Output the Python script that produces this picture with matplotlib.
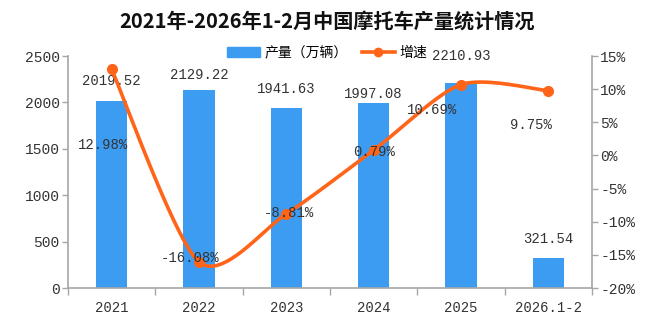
import numpy as np
import matplotlib
matplotlib.use("Agg")
import matplotlib.pyplot as plt
from matplotlib.lines import Line2D
from matplotlib.patches import Patch

plt.rcParams['font.family'] = ['Noto Sans CJK SC', 'DejaVu Sans']

categories = ['2021', '2022', '2023', '2024', '2025', '2026.1-2']
output = [2019.52, 2129.22, 1941.63, 1997.08, 2210.93, 321.54]
growth = [12.98, -16.08, -8.81, 0.79, 10.69, 9.75]
left_ticks = [0, 500, 1000, 1500, 2000, 2500]
right_ticks = [-20, -15, -10, -5, 0, 5, 10, 15]

# label offsets in pixels (dx, dy), copied by eye from the reference
bar_label_off = [(0, 20), (0, 15), (0, 19), (0, 9), (0, 27), (0, 19)]
pct_label_off = [(-9, -76), (-9, 4), (3, 1), (0, -2), (-29, -25), (-17, -34)]

BLUE = '#3c9cf2'
ORANGE = '#ff6418'
GRAY = '#a6a6a6'
TXT = '#333333'
MONO = 'Liberation Mono'


def catmull_rom(px, py, n=40, k=0.8):
    # smooth line like the spreadsheet one, in pixel space
    pts = np.column_stack([px, py])
    pts = np.vstack([pts[0], pts, pts[-1]])
    out = []
    for i in range(1, len(pts) - 2):
        p0, p1, p2, p3 = pts[i - 1], pts[i], pts[i + 1], pts[i + 2]
        m1 = k * (p2 - p0) / 2
        m2 = k * (p3 - p1) / 2
        t = np.linspace(0, 1, n)[:, None]
        h00 = 2 * t ** 3 - 3 * t ** 2 + 1
        h10 = t ** 3 - 2 * t ** 2 + t
        h01 = -2 * t ** 3 + 3 * t ** 2
        h11 = t ** 3 - t ** 2
        out.append(h00 * p1 + h10 * m1 + h01 * p2 + h11 * m2)
    out = np.vstack(out)
    return out[:, 0], out[:, 1]


fig = plt.figure(figsize=(6.61, 3.22), dpi=100)
ax = fig.add_axes([68 / 661, 1 - 288 / 322, (592 - 68) / 661, (288 - 56) / 322])
ax2 = ax.twinx()

x = np.arange(len(categories))
ax.bar(x, output, width=0.36, color=BLUE, zorder=2)
ax.set_xlim(-0.5, len(categories) - 0.5)
ax.set_ylim(0, 2500)
ax.set_yticks(left_ticks)
ax.set_yticklabels([str(v) for v in left_ticks], fontfamily=MONO, fontsize=10.5, color=TXT)
ax.set_xticks(x)
ax.set_xticklabels(categories, fontfamily=MONO, fontsize=10, color=TXT)
ax.set_xticks(np.arange(len(categories) + 1) - 0.5, minor=True)
ax.tick_params(axis='x', which='major', length=0, pad=9)
ax.tick_params(axis='x', which='minor', length=5, color=GRAY, width=1)
ax.tick_params(axis='y', length=4, color=GRAY, width=1, pad=2)

ax2.set_ylim(-20, 15)
ax2.set_yticks(right_ticks)
ax2.set_yticklabels([f'{v}%' for v in right_ticks], fontfamily=MONO, fontsize=10.5, color=TXT)
ax2.tick_params(axis='y', length=4, color=GRAY, width=1, pad=2)

for a in (ax, ax2):
    a.spines['top'].set_visible(False)
    for s in ('left', 'right', 'bottom'):
        a.spines[s].set_color(GRAY)
        a.spines[s].set_linewidth(1.2)
ax.spines['right'].set_visible(False)
ax2.spines['left'].set_visible(False)
ax2.spines['bottom'].set_visible(False)

# smooth growth line, built in display space then mapped back to data
fig.canvas.draw()
disp = ax2.transData.transform(np.column_stack([x, growth]))
sx, sy = catmull_rom(disp[:, 0], disp[:, 1])
back = ax2.transData.inverted().transform(np.column_stack([sx, sy]))
ax2.plot(back[:, 0], back[:, 1], color=ORANGE, lw=2.6, zorder=3, solid_capstyle='round')
ax2.plot(x, growth, 'o', color=ORANGE, ms=7, zorder=4)

for i, v in enumerate(output):
    dx, dy = bar_label_off[i]
    ax.annotate(f'{v:.2f}', (x[i], v), xytext=(dx * 0.72, dy * 0.72), textcoords='offset points',
                ha='center', va='center', fontfamily=MONO, fontsize=10, color=TXT, zorder=5)
for i, v in enumerate(growth):
    dx, dy = pct_label_off[i]
    ax2.annotate(f'{v:.2f}%', (x[i], v), xytext=(dx * 0.72, dy * 0.72), textcoords='offset points',
                 ha='center', va='center', fontfamily=MONO, fontsize=10, color=TXT, zorder=5)

handles = [Patch(color=BLUE), Line2D([], [], color=ORANGE, lw=2.6, marker='o', ms=6)]
fig.legend(handles, ['产量（万辆）', '增速'], loc='center', bbox_to_anchor=(327 / 661, 1 - 53 / 322),
           ncol=2, frameon=False, fontsize=10, handlelength=2.4, handleheight=0.8,
           columnspacing=1.0, handletextpad=0.3)

fig.text(327 / 661, 1 - 21 / 322, '2021年-2026年1-2月中国摩托车产量统计情况',
         ha='center', va='center', fontsize=14.5, fontweight='bold', color='#111111')

fig.savefig('out.png', dpi=100)
